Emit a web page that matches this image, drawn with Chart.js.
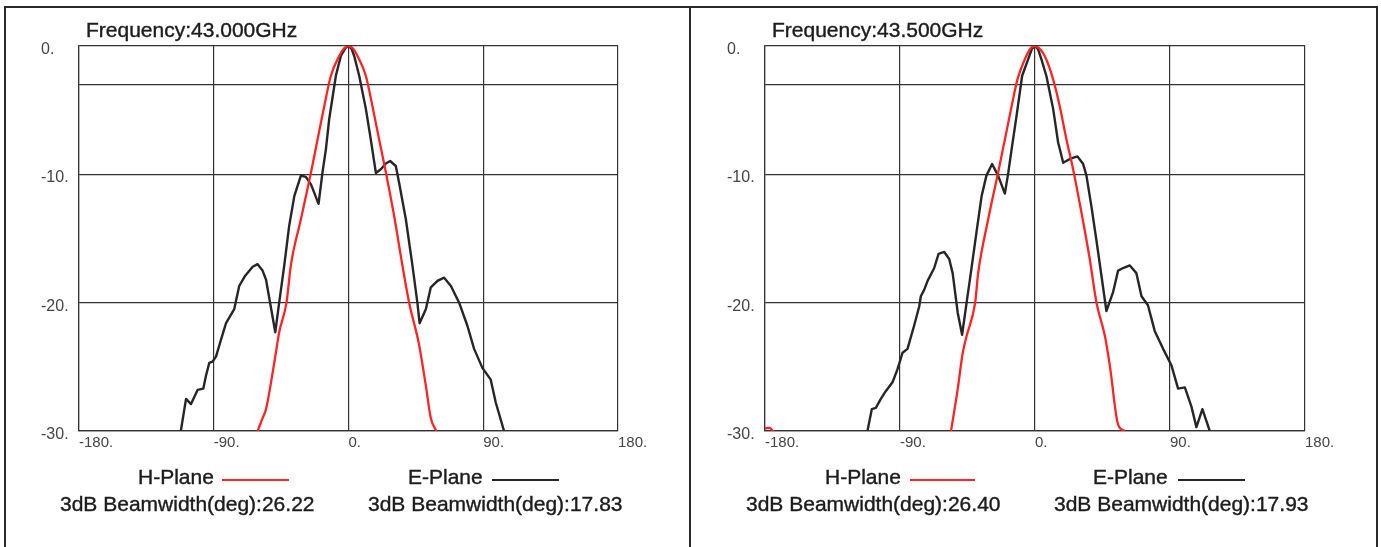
<!DOCTYPE html>
<html><head><meta charset="utf-8">
<script src="https://cdn.jsdelivr.net/npm/chart.js@4/dist/chart.umd.min.js"></script>
<style>
html,body{margin:0;padding:0;background:#fff;width:1381px;height:547px;overflow:hidden;}
body{position:relative;font-family:"Liberation Sans",Arial,sans-serif;color:#222;}
.frame{position:absolute;top:6px;height:600px;border-top:2px solid #2a2a2a;}
canvas{position:absolute;top:0;}
.txt{position:absolute;font-size:21px;line-height:21px;white-space:nowrap;color:#1c1c1c;-webkit-text-stroke:0.4px #1c1c1c;}
.sw{position:absolute;height:2px;}
</style></head><body>
<div class="frame" style="left:4px;width:683px;border-left:2px solid #2a2a2a;border-right:2px solid #2a2a2a;"></div>
<div class="frame" style="left:691px;width:685px;border-right:2px solid #2a2a2a;"></div>
<canvas id="c1" width="690" height="547" style="left:0px"></canvas>
<canvas id="c2" width="690" height="547" style="left:686px"></canvas>

<div class="txt" style="left:86px;top:19px">Frequency:43.000GHz</div>
<div class="txt" style="left:138px;top:466px">H-Plane</div>
<div class="sw" style="left:222px;top:479px;width:67px;background:#ff2424"></div>
<div class="txt" style="left:408px;top:466px">E-Plane</div>
<div class="sw" style="left:492px;top:479px;width:67px;background:#262626"></div>
<div class="txt" style="left:60px;top:493px">3dB Beamwidth(deg):26.22</div>
<div class="txt" style="left:368px;top:493px">3dB Beamwidth(deg):17.83</div>

<div class="txt" style="left:772px;top:19px">Frequency:43.500GHz</div>
<div class="txt" style="left:825px;top:466px">H-Plane</div>
<div class="sw" style="left:910px;top:479px;width:65px;background:#ff2424"></div>
<div class="txt" style="left:1093px;top:466px">E-Plane</div>
<div class="sw" style="left:1178px;top:479px;width:67px;background:#262626"></div>
<div class="txt" style="left:746px;top:493px">3dB Beamwidth(deg):26.40</div>
<div class="txt" style="left:1054px;top:493px">3dB Beamwidth(deg):17.93</div>

<script>
// Tick values
const X_TICKS = [-180, -90, 0, 90, 180];
const Y_GRID = [-30, -20, -10, -3, 0];
const Y_LABELS = [-30, -20, -10, 0];

// 43.000 GHz - H-Plane
const h43Angles = [-60.7,-57.4,-55.1,-48.5,-46.3,-41.4,-38.5,-31.8,-25.1,-20.7,-16.2,-11.8,-6.2,-3,0,3,6,11.6,16,20.5,25,30.5,36,40.5,47,51.7,55,58.7];
const h43Db     = [-30,-29,-28.3,-23.9,-22.3,-20,-17.1,-13.5,-9.87,-7.3,-4.7,-2.34,-0.78,-0.2,0,-0.2,-0.78,-2.34,-4.7,-7.3,-9.87,-13.25,-17.1,-20,-23.2,-26.5,-29,-30];
// 43.000 GHz - E-Plane
const e43Angles = [-112,-108.5,-105.2,-100.8,-97,-95.2,-93,-90.8,-88.5,-85.2,-81.8,-76.3,-73,-69,-64,-60.7,-57.4,-55.1,-48.9,-46.3,-42.9,-39.6,-36.2,-31.8,-28.5,-25,-20,-17.4,-15.1,-12.9,-8.4,-5.1,-2,0,2,3.8,7.1,11.6,14.9,18.3,21.6,25,27.8,31.6,33.8,38.3,42.7,46,47.5,51.7,55,59.4,63.9,68.4,73.9,79.4,83.9,89.5,95,98.4,103.9];
const e43Db     = [-30,-27.5,-27.9,-26.8,-26.7,-25.7,-24.7,-24.6,-24.2,-22.9,-21.6,-20.5,-18.7,-17.9,-17.2,-17.0,-17.5,-18.2,-22.3,-20,-17.1,-14.0,-11.7,-10.1,-10.2,-10.8,-12.3,-9.87,-8.05,-5.7,-2.3,-0.78,-0.15,0,-0.2,-0.78,-2.3,-4.9,-7.3,-9.9,-9.6,-9.15,-8.96,-9.35,-10.65,-13.5,-17.1,-20,-21.6,-20.5,-18.8,-18.3,-18.05,-18.7,-20,-21.8,-23.6,-25.1,-26,-27.8,-30];

// 43.500 GHz - H-Plane (null separates the small lobe at -180)
const h435Angles = [-180,-177,-173,-172,-56,-51.6,-48.3,-45.6,-39.9,-37.9,-31.2,-24.6,-20.1,-15.6,-11.7,-6.8,-3,0,3,6.5,12.1,16.5,21,25.4,31,36.5,41,46.6,49.9,55.4,59.9];
const h435Db     = [-29.8,-29.75,-30.3,null,-30,-26.8,-24,-22.6,-20,-17.7,-13.5,-9.87,-7.3,-4.7,-2.6,-1.04,-0.2,0,-0.2,-0.78,-2.6,-4.7,-7.3,-9.6,-13,-16.6,-20,-22.6,-24.9,-29.5,-30];
// 43.500 GHz - E-Plane
const e435Angles = [-111.7,-108.8,-106.1,-102.8,-99.5,-95,-91.7,-88.3,-85,-80.6,-77.2,-76.1,-73.9,-71.6,-67.2,-64.3,-60.5,-57.2,-54.9,-51.5,-48.6,-45.6,-43.4,-39,-35.6,-32.4,-28.6,-24.6,-20.1,-17.8,-15.6,-12.3,-8.6,-4.6,-2,0,2,4.3,7.6,12.1,15.4,18.8,23.2,28.3,32.1,34.3,37.6,40.9,44.3,47.6,52,55.4,58.7,63.2,67.6,71,75.3,79.8,85.4,91,95.4,99.9,104.3,107.6,111.6,116.5];
const e435Db     = [-30,-28.3,-28.2,-27.5,-26.9,-26.2,-25.2,-23.9,-23.6,-21.8,-20.3,-19.5,-19,-18.3,-17.3,-16.2,-16.05,-16.6,-17.7,-20.8,-22.5,-20,-18.2,-14.5,-11.7,-10.1,-9.2,-10.1,-11.5,-9.87,-8.05,-5.45,-2.34,-1.04,-0.2,0,-0.25,-1.04,-2.34,-4.9,-7.5,-9.1,-8.8,-8.6,-9.2,-10.1,-12.5,-15.1,-17.9,-20.65,-19.2,-17.5,-17.3,-17.1,-17.7,-19.5,-20.2,-22.2,-23.6,-24.9,-26.7,-26.6,-28.1,-29.7,-28.3,-30];

Chart.defaults.font.family = '"Liberation Sans", Arial, sans-serif';

function pts(a, d){ return a.map((v,i)=>({x:v, y:d[i]})); }

function makeChart(id, hA, hD, eA, eD, padRight){
  const gridCol = '#333333';
  new Chart(document.getElementById(id), {
    type:'line',
    data:{datasets:[
      {label:'H-Plane', data:pts(hA,hD), borderColor:'#ff2424', borderWidth:2.3, pointRadius:0, cubicInterpolationMode:'monotone', spanGaps:false},
      {label:'E-Plane', data:pts(eA,eD), borderColor:'#262626', borderWidth:2.4, pointRadius:0, tension:0, borderJoinStyle:'round'}
    ]},
    options:{
      responsive:false, animation:false, devicePixelRatio:1,
      layout:{padding:{left:41, top:46, right:padRight, bottom:86}},
      plugins:{legend:{display:false}, tooltip:{enabled:false}},
      scales:{
        x:{type:'linear', min:-180, max:180,
           afterBuildTicks:s=>{s.ticks = X_TICKS.map(v=>({value:v}));},
           afterFit:s=>{s.height = 30;},
           grid:{color:gridCol, lineWidth:1.2, drawTicks:false},
           border:{display:true, color:gridCol, width:1.2},
           ticks:{align:'start', padding:3, color:'#444', font:{size:15}, maxRotation:0, autoSkip:false, callback:v=>v+'.'}},
        y:{type:'linear', min:-30, max:0,
           afterBuildTicks:s=>{s.ticks = Y_GRID.map(v=>({value:v}));},
           afterFit:s=>{s.width = 38;},
           grid:{color:gridCol, lineWidth:1.2, drawTicks:false},
           border:{display:true, color:gridCol, width:1.2},
           ticks:{crossAlign:'far', labelOffset:3.5, padding:0, color:'#444', font:{size:16}, autoSkip:false, callback:v=>Y_LABELS.includes(v) ? v+'.' : ''}}
      }
    }
  });
}
makeChart('c1', h43Angles, h43Db, e43Angles, e43Db, 72);
makeChart('c2', h435Angles, h435Db, e435Angles, e435Db, 71);
</script>
</body></html>
